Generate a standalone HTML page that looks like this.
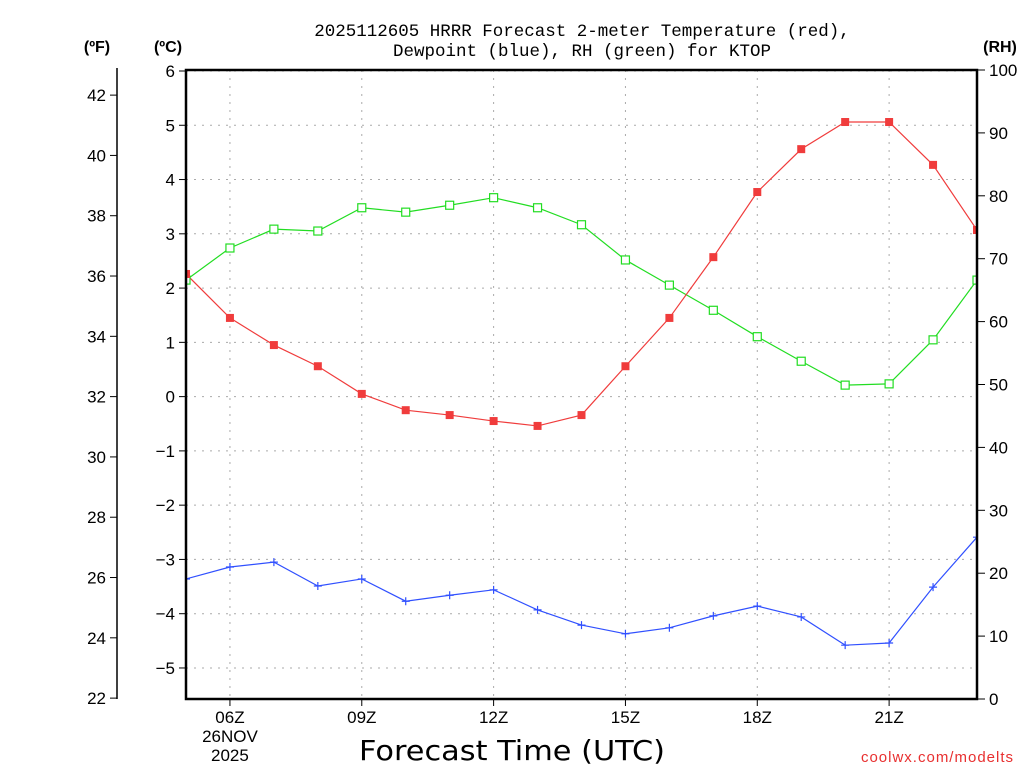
<!DOCTYPE html>
<html><head><meta charset="utf-8"><style>
html,body{margin:0;padding:0;background:#fff;}
svg{display:block;font-family:"Liberation Sans","DejaVu Sans",sans-serif;}
</style></head><body>
<svg id="chart" width="1024" height="768" viewBox="0 0 1024 768">
<defs><clipPath id="plotclip"><rect x="186" y="70" width="791" height="629"/></clipPath></defs>
<text x="582" y="36" text-anchor="middle" font-size="17.5" font-family="Liberation Mono, monospace" fill="#000">2025112605 HRRR Forecast 2-meter Temperature (red),</text>
<text x="582" y="56" text-anchor="middle" font-size="17.5" font-family="Liberation Mono, monospace" fill="#000">Dewpoint (blue), RH (green) for KTOP</text>
<text x="97" y="52" text-anchor="middle" font-size="16" font-weight="bold">(ºF)</text>
<text x="168" y="52" text-anchor="middle" font-size="16" font-weight="bold">(ºC)</text>
<text x="1000" y="52" text-anchor="middle" font-size="16" font-weight="bold">(RH)</text>
<g id="grid"></g>
<g id="axes"></g>
<g id="series" clip-path="url(#plotclip)"></g>
<rect x="186" y="70" width="791" height="629" fill="none" stroke="#000" stroke-width="2.5"/>
<text x="512" y="760" text-anchor="middle" font-size="28" font-family="DejaVu Sans, sans-serif" textLength="306" lengthAdjust="spacingAndGlyphs">Forecast Time (UTC)</text>
<text x="1014" y="762" text-anchor="end" font-size="15" fill="#e83030" letter-spacing="1">coolwx.com/modelts</text>
</svg>
<script>
const hours=[5,6,7,8,9,10,11,12,13,14,15,16,17,18,19,20,21,22,23];
const tempC=[2.26,1.45,0.95,0.56,0.05,-0.25,-0.34,-0.45,-0.54,-0.34,0.56,1.45,2.57,3.77,4.56,5.06,5.06,4.27,3.07];
const dewC=[-3.36,-3.14,-3.05,-3.49,-3.36,-3.77,-3.66,-3.56,-3.93,-4.21,-4.37,-4.26,-4.04,-3.86,-4.06,-4.58,-4.54,-3.51,-2.59];
const rh=[66.6,71.7,74.7,74.4,78.1,77.4,78.5,79.7,78.1,75.4,69.8,65.8,61.8,57.6,53.7,49.9,50.1,57.1,66.6];
const xTickHours=[6,9,12,15,18,21];
const xTickLabels=["06Z","09Z","12Z","15Z","18Z","21Z"];
const cTicks=[-5,-4,-3,-2,-1,0,1,2,3,4,5,6];
const fTicks=[22,24,26,28,30,32,34,36,38,40,42];
const rhTicks=[0,10,20,30,40,50,60,70,80,90,100];
const NS="http://www.w3.org/2000/svg";
const X=h=>186+(h-5)*(791/18);
const YC=c=>71+(6-c)*54.27;
const YF=f=>YC((f-32)*5/9);
const YR=r=>699-r*6.29;
function mk(tag,attrs,parent,txt){const e=document.createElementNS(NS,tag);for(const k in attrs)e.setAttribute(k,attrs[k]);if(txt!==undefined)e.textContent=txt;parent.appendChild(e);return e;}
const grid=document.getElementById('grid'),axes=document.getElementById('axes'),ser=document.getElementById('series');
cTicks.forEach(c=>{const y=YC(c);
 const g=mk('line',{x1:186,x2:977,y1:y,y2:y,stroke:'#aaa','stroke-dasharray':'2,6'},grid);
 
 const t=mk('line',{x1:179,x2:186,y1:y,y2:y,stroke:'#000'},axes);
 
 const l=mk('text',{x:175,y:y+6,'text-anchor':'end','font-size':17},axes,c<0?'\u2212'+(-c):String(c));
 });
xTickHours.forEach((h,i)=>{const x=X(h);
 const g=mk('line',{x1:x,x2:x,y1:70,y2:699,stroke:'#aaa','stroke-dasharray':'2,6'},grid);
 
 const t=mk('line',{x1:x,x2:x,y1:699,y2:706,stroke:'#000'},axes);
 
 const l=mk('text',{x:x,y:723,'text-anchor':'middle','font-size':17},axes,xTickLabels[i]);
 });
const d1=mk('text',{x:X(6),y:742,'text-anchor':'middle','font-size':17},axes,'26NOV');

const d2=mk('text',{x:X(6),y:761,'text-anchor':'middle','font-size':17},axes,'2025');

const fl=mk('line',{x1:117,x2:117,y1:68,y2:699,stroke:'#000','stroke-width':1.5},axes);

fTicks.forEach(f=>{const y=YF(f);
 const t=mk('line',{x1:110,x2:117,y1:y,y2:y,stroke:'#000'},axes);
 
 const l=mk('text',{x:106,y:y+6,'text-anchor':'end','font-size':17},axes,String(f));
 });
rhTicks.forEach(r=>{const y=YR(r);
 const t=mk('line',{x1:977,x2:985,y1:y,y2:y,stroke:'#000'},axes);
 
 const l=mk('text',{x:989,y:y+6,'text-anchor':'start','font-size':17},axes,String(r));
 });
function line(vals,yf,color,name){const p=mk('polyline',{points:vals.map((v,i)=>X(hours[i])+','+yf(v)).join(' '),fill:'none',stroke:color,'stroke-width':1.2},ser);
 }
line(rh,YR,'#22dd22','rh-line');
line(tempC,YC,'#f03c3c','temperature-line');
line(dewC,YC,'#3050ff','dewpoint-line');
rh.forEach((v,i)=>{const m=mk('rect',{x:X(hours[i])-4,y:YR(v)-4,width:8,height:8,fill:'#fff',stroke:'#22dd22','stroke-width':1.2},ser);
 });
tempC.forEach((v,i)=>{const m=mk('rect',{x:X(hours[i])-4,y:YC(v)-4,width:8,height:8,fill:'#f03c3c'},ser);
 });
dewC.forEach((v,i)=>{const x=X(hours[i]),y=YC(v);
 const m=mk('path',{d:`M${x-4},${y}H${x+4}M${x},${y-4}V${y+4}`,stroke:'#3050ff','stroke-width':1.2},ser);
 });
</script>
</body></html>
